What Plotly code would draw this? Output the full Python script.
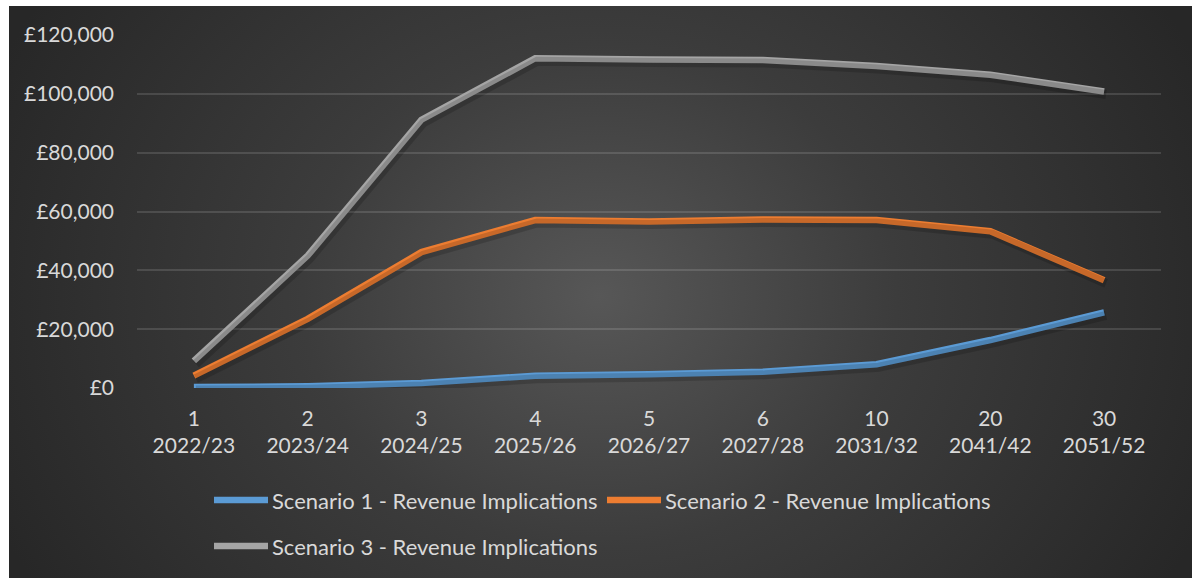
import base64
import plotly.graph_objects as go

# Year index and financial year for each point
year_index = ["1", "2", "3", "4", "5", "6", "10", "20", "30"]
financial_year = ["2022/23", "2023/24", "2024/25", "2025/26", "2026/27",
                  "2027/28", "2031/32", "2041/42", "2051/52"]

# Revenue implications (£) per scenario
scenario_1 = [300, 600, 1700, 4200, 4700, 5500, 8100, 16300, 25700]
scenario_2 = [4200, 23500, 46200, 57100, 56600, 57300, 57100, 53300, 36600]
scenario_3 = [9200, 45000, 91200, 112100, 111700, 111500, 109500, 106500, 100800]

series_names = ["Scenario 1 - Revenue Implications",
                "Scenario 2 - Revenue Implications",
                "Scenario 3 - Revenue Implications"]
series_values = [scenario_1, scenario_2, scenario_3]
series_colors = ["#5B9BD5", "#ED7D31", "#A5A5A5"]

y_ticks = [0, 20000, 40000, 60000, 80000, 100000, 120000]
y_tick_text = ["£0", "£20,000", "£40,000", "£60,000", "£80,000", "£100,000", "£120,000"]

categories = [f"{a}<br>{b}" for a, b in zip(year_index, financial_year)]

W, H = 1195, 578
ML, MR, MT, MB = 137, 34, 35, 190
PW, PH = W - ML - MR, H - MT - MB
FONT = "Lato"
TEXT = "#d9d9d9"


def px_x(p):
    return (p - ML) / PW


def px_y(p):
    return (H - MB - p) / PH


# Dark radial-gradient chart panel
panel_w, panel_h = 1183, 572
svg = f"""<svg xmlns='http://www.w3.org/2000/svg' width='{panel_w}' height='{panel_h}'>
<defs><radialGradient id='g' gradientUnits='userSpaceOnUse' cx='591' cy='290' r='1'
 gradientTransform='translate(591 290) scale(660 560) translate(-591 -290)'>
<stop offset='0' stop-color='#575757'/>
<stop offset='0.45' stop-color='#3c3c3c'/>
<stop offset='1' stop-color='#272727'/>
</radialGradient></defs>
<rect width='{panel_w}' height='{panel_h}' fill='url(#g)'/></svg>"""
svg_uri = "data:image/svg+xml;base64," + base64.b64encode(svg.encode()).decode()

fig = go.Figure()

# Soft drop shadow: same series drawn on hidden axes shifted a few pixels
shadow_dx, shadow_dy = 2, 3
cat_per_px = len(categories) / PW
val_per_px = 120000 / PH

for vals in series_values:
    fig.add_trace(go.Scatter(
        x=categories, y=vals, mode="lines", xaxis="x2", yaxis="y2",
        line=dict(color="rgba(0,0,0,0.16)", width=9), hoverinfo="skip",
        showlegend=False))

for name, vals, col in zip(series_names, series_values, series_colors):
    fig.add_trace(go.Scatter(
        x=categories, y=vals, mode="lines", name=name,
        line=dict(color=col, width=6.5), showlegend=False))

fig.update_layout(
    width=W, height=H,
    margin=dict(l=ML, r=MR, t=MT, b=MB),
    paper_bgcolor="white",
    plot_bgcolor="rgba(0,0,0,0)",
    font=dict(family=FONT, color=TEXT, size=21),
    xaxis=dict(type="category", categoryorder="array", categoryarray=categories,
               range=[-0.5, len(categories) - 0.5], showgrid=False,
               zeroline=False, showline=False, ticks="",
               tickfont=dict(family=FONT, size=21, color=TEXT),
               ticklabelstandoff=16),
    yaxis=dict(range=[0, 120000], tickvals=y_ticks, ticktext=y_tick_text,
               showgrid=True, gridcolor="rgba(255,255,255,0.13)", gridwidth=1.5,
               zeroline=False, showline=False, ticks="",
               tickfont=dict(family=FONT, size=21, color=TEXT),
               ticklabelstandoff=22),
    xaxis2=dict(type="category", categoryorder="array", categoryarray=categories,
                overlaying="x", visible=False,
                range=[-0.5 - shadow_dx * cat_per_px,
                       len(categories) - 0.5 - shadow_dx * cat_per_px]),
    yaxis2=dict(overlaying="y", visible=False,
                range=[shadow_dy * val_per_px, 120000 + shadow_dy * val_per_px]),
    images=[dict(source=svg_uri, xref="paper", yref="paper",
                 x=px_x(9), y=px_y(6), sizex=panel_w / PW, sizey=panel_h / PH,
                 xanchor="left", yanchor="top", sizing="stretch", layer="below")],
    showlegend=False,
)

# Legend: line samples with labels, laid out in two rows
legend_items = [
    (214, 268, 500, 0),
    (607, 661, 500, 1),
    (214, 268, 546, 2),
]
shapes = []
annotations = []
for x0, x1, yy, i in legend_items:
    shapes.append(dict(type="line", xref="paper", yref="paper",
                       x0=px_x(x0), x1=px_x(x1), y0=px_y(yy), y1=px_y(yy),
                       line=dict(color=series_colors[i], width=6.5)))
    annotations.append(dict(text=series_names[i], xref="paper", yref="paper",
                            x=px_x(x1 + 2), y=px_y(yy), xanchor="left",
                            yanchor="middle", showarrow=False,
                            font=dict(family=FONT, size=22, color=TEXT)))
fig.update_layout(shapes=shapes, annotations=annotations)

fig.write_html("out.html")
